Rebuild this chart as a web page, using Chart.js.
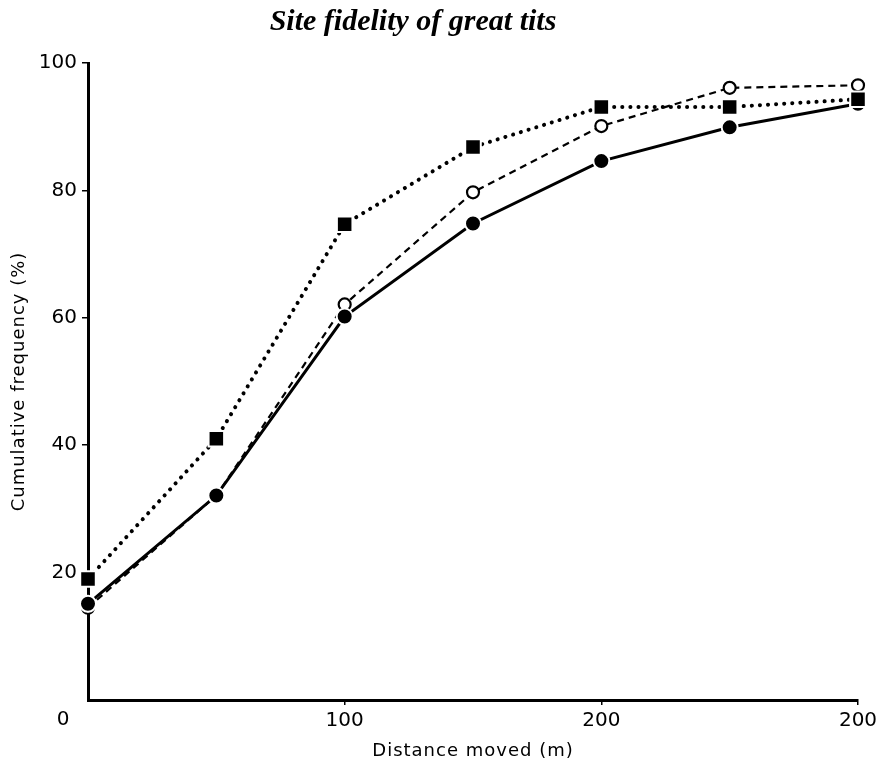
<!DOCTYPE html>
<html><head><meta charset="utf-8">
<script src="https://cdn.jsdelivr.net/npm/chart.js@4"></script>
<style>html,body{margin:0;padding:0;background:#fff}</style>
</head><body>
<canvas id="c" width="886" height="764" style="display:block;width:886px;height:764px"></canvas>
<script>
const chartTitle = 'Site fidelity of great tits';
const xAxisTitle = 'Distance moved (m)';
const yAxisTitle = 'Cumulative frequency (%)';
const distances = [0, 50, 100, 150, 200, 250, 300];
const squareSeries = [19.0, 41.0, 74.7, 86.8, 93.1, 93.1, 94.3];
const openCircleSeries = [14.5, 32.1, 62.1, 79.7, 90.1, 96.1, 96.5];
const filledCircleSeries = [15.1, 32.1, 60.2, 74.8, 84.6, 89.9, 93.6];
const xTickValues = [0, 100, 200, 300];
const xTickLabels = ['0', '100', '200', '200'];
const yTickValues = [20, 40, 60, 80, 100];
const yTickLabels = ['20', '40', '60', '80', '100'];

const toPoints = arr => distances.map((d, i) => ({x: d, y: arr[i]}));
const tickFont = {family: '"DejaVu Sans"', size: 20};
const titleFont = {family: '"DejaVu Sans"', size: 18};
const hideZero = c => (c.tick && c.tick.value === 0) ? 'rgba(0,0,0,0)' : '#000';

const extraText = {
  id: 'extraText',
  beforeDraw(chart) {
    Object.values(chart.scales).forEach(s => {
      if (s._spaced) return;
      const orig = s.drawTitle;
      s.drawTitle = function () {
        this.ctx.save();
        this.ctx.letterSpacing = '1px';
        orig.call(this);
        this.ctx.restore();
      };
      s._spaced = true;
    });
  },
  afterDraw(chart) {
    const ctx = chart.ctx;
    const xs = chart.scales.x;
    ctx.save();
    ctx.fillStyle = '#000';
    ctx.textAlign = 'center';
    ctx.textBaseline = 'middle';
    ctx.font = 'italic bold 30px "Liberation Serif"';
    ctx.fillText(chartTitle, 413, 22);
    ctx.font = '20px "DejaVu Sans"';
    ctx.fillText(xTickLabels[0], xs.getPixelForValue(xTickValues[0]) - 25, 720);
    ctx.restore();
  }
};

new Chart(document.getElementById('c'), {
  type: 'line',
  data: {
    datasets: [
      {
        data: toPoints(squareSeries),
        borderColor: '#000', borderWidth: 4, borderDash: [0.1, 8], borderCapStyle: 'round',
        pointStyle: 'rect', pointRadius: 11, pointBackgroundColor: '#000',
        pointBorderColor: '#fff', pointBorderWidth: 2, tension: 0, clip: false, fill: false
      },
      {
        data: toPoints(filledCircleSeries),
        borderColor: '#000', borderWidth: 3,
        pointStyle: 'circle', pointRadius: 8, pointBackgroundColor: '#000',
        pointBorderColor: '#fff', pointBorderWidth: 2, tension: 0, clip: false, fill: false
      },
      {
        data: toPoints(openCircleSeries),
        borderColor: '#000', borderWidth: 2.2, borderDash: [7, 5],
        pointStyle: 'circle', pointRadius: 6, pointBackgroundColor: '#fff',
        pointBorderColor: '#000', pointBorderWidth: 2.2, tension: 0, clip: false, fill: false
      }
    ]
  },
  options: {
    responsive: false,
    animation: false,
    devicePixelRatio: 1,
    layout: {padding: {top: 63, right: 28, left: 0, bottom: 0}},
    plugins: {legend: {display: false}, tooltip: {enabled: false}, title: {display: false}},
    scales: {
      x: {
        type: 'linear', min: 0, max: 300,
        afterBuildTicks: s => { s.ticks = xTickValues.map(v => ({value: v})); },
        afterFit: s => { s.height = 64; },
        ticks: {
          color: '#000', font: tickFont, padding: 4, maxRotation: 0, autoSkip: false,
          callback: (v, i) => i === 0 ? '' : xTickLabels[i]
        },
        grid: {drawOnChartArea: false, drawTicks: true, tickLength: 5, color: hideZero, lineWidth: 1.5},
        border: {display: true, color: '#000', width: 3},
        title: {display: true, text: xAxisTitle, color: '#000', font: titleFont, padding: {top: 0, bottom: 2}}
      },
      y: {
        type: 'linear', min: 0, max: 100,
        afterBuildTicks: s => { s.ticks = yTickValues.map(v => ({value: v})); },
        afterFit: s => { s.width = 88; },
        ticks: {
          color: '#000', font: tickFont, padding: 5,
          callback: (v, i) => yTickLabels[i]
        },
        grid: {drawOnChartArea: false, drawTicks: true, tickLength: 6, color: '#000', lineWidth: 1.5},
        border: {display: true, color: '#000', width: 3},
        title: {display: true, text: yAxisTitle, color: '#000', font: titleFont, padding: {top: 9, bottom: 0}}
      }
    }
  },
  plugins: [extraText]
});
</script>
</body></html>
